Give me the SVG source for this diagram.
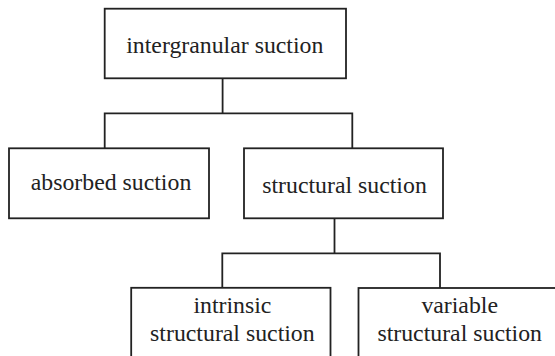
<svg xmlns="http://www.w3.org/2000/svg" width="555" height="356" viewBox="0 0 555 356">
<style>
.box{fill:#fff;stroke:#222;stroke-width:1.8}
.con{fill:none;stroke:#222;stroke-width:1.8}
.t{font-family:"Liberation Serif","Times New Roman","DejaVu Serif",serif;font-size:23.8px;fill:#222;text-anchor:middle}
</style>
<rect width="555" height="356" fill="#fff"/>
<g id="connectors">
<path class="con" d="M222.6,78.3 V113.3"/>
<path class="con" d="M104.7,148.3 V113.3 H352.3 V148.3"/>
<path class="con" d="M334.5,218.3 V253.3"/>
<path class="con" d="M222.3,287.8 V253.3 H440 V288"/>
</g>
<g id="intergranular">
<rect class="box" x="104.7" y="8.7" width="241.3" height="69.6"/>
<text class="t" x="224.8" y="53">intergranular suction</text>
</g>
<g id="absorbed">
<rect class="box" x="9" y="148.3" width="200" height="70"/>
<text class="t" x="111" y="190">absorbed suction</text>
</g>
<g id="structural">
<rect class="box" x="244" y="148.3" width="199" height="70"/>
<text class="t" x="344.5" y="193.3">structural suction</text>
</g>
<g id="intrinsic">
<rect class="box" x="131.2" y="287.8" width="199.3" height="80"/>
<text class="t" x="232.4" y="312.7">intrinsic</text>
<text class="t" x="232.4" y="340.7">structural suction</text>
</g>
<g id="variable">
<rect class="box" x="358.5" y="288" width="210" height="80"/>
<text class="t" x="459.7" y="312.7">variable</text>
<text class="t" x="459.7" y="340.7">structural suction</text>
</g>
</svg>
